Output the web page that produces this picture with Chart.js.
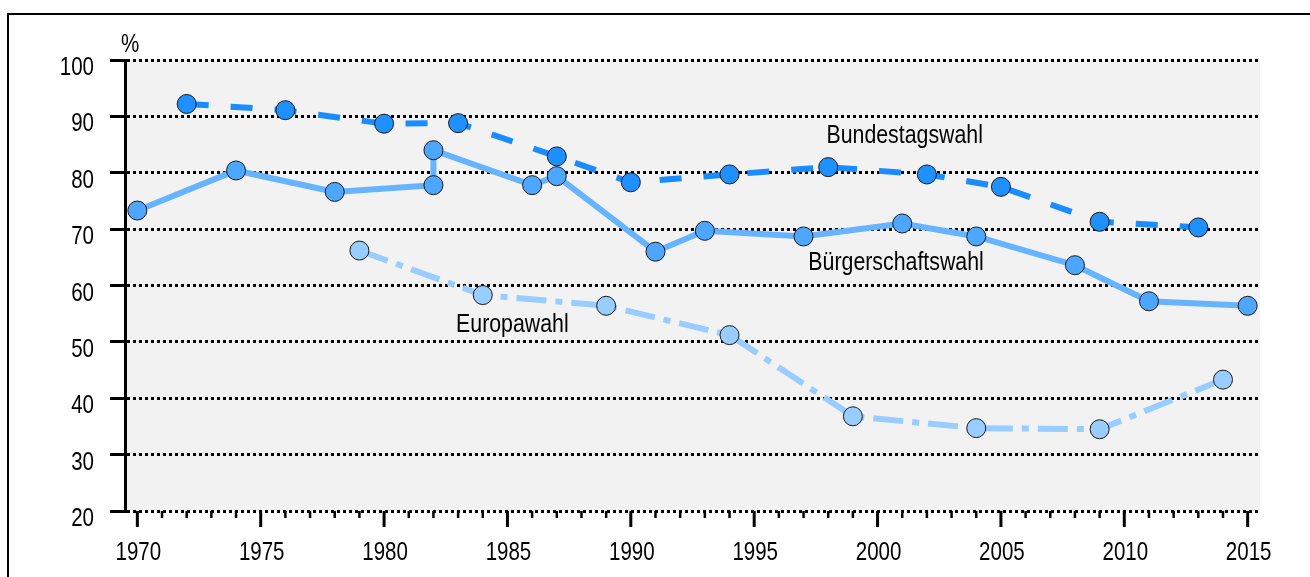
<!DOCTYPE html>
<html>
<head>
<meta charset="utf-8">
<script src="https://cdn.jsdelivr.net/npm/chart.js@4/dist/chart.umd.min.js"></script>
<style>
  html, body { margin: 0; padding: 0; background: #fff; overflow: hidden; }
  #frame { position: absolute; left: 7px; top: 13px; width: 1400px; height: 700px; border: 2px solid #000; }
  #chart { position: absolute; left: 0; top: 0; }
</style>
</head>
<body>
<div id="frame"></div>
<canvas id="chart" width="1310" height="577"></canvas>
<script>
var FONT = '"Liberation Sans", Arial, sans-serif';
var NARROW = 0.82; // squeeze factor for the narrow lettering

// Wahlbeteiligung in %
var bundestagYears = [1972, 1976, 1980, 1983, 1987, 1990, 1994, 1998, 2002, 2005, 2009, 2013];
var bundestagValues = [92.2, 91.1, 88.7, 88.8, 82.9, 78.3, 79.7, 81.0, 79.7, 77.5, 71.3, 70.3];

var buergerschaftYears = [1970, 1974, 1978, 1982, 1982, 1986, 1987, 1991, 1993, 1997, 2001, 2004, 2008, 2011, 2015];
var buergerschaftValues = [73.3, 80.4, 76.6, 77.8, 84.0, 77.8, 79.4, 66.0, 69.7, 68.7, 71.0, 68.7, 63.6, 57.2, 56.4];

var europaYears = [1979, 1984, 1989, 1994, 1999, 2004, 2009, 2014];
var europaValues = [66.2, 58.3, 56.4, 51.2, 36.8, 34.7, 34.5, 43.3];

var seriesNames = ['Bürgerschaftswahl', 'Bundestagswahl', 'Europawahl'];

var xLabelYears = [1970, 1975, 1980, 1985, 1990, 1995, 2000, 2005, 2010, 2015];
var yTickValues = [20, 30, 40, 50, 60, 70, 80, 90, 100];

function toPoints(xs, ys) {
  return xs.map(function (x, i) { return { x: x, y: ys[i] }; });
}

function narrowText(ctx, text, x, y, size, align) {
  ctx.save();
  ctx.font = size + 'px ' + FONT;
  ctx.textAlign = align;
  ctx.textBaseline = 'alphabetic';
  ctx.translate(x, y);
  ctx.scale(NARROW, 1);
  ctx.fillText(text, 0, 0);
  ctx.restore();
}

// grey plot background
var plotBackground = {
  id: 'plotBackground',
  beforeDraw: function (chart) {
    var a = chart.chartArea, ctx = chart.ctx;
    ctx.save();
    ctx.fillStyle = '#f2f2f2';
    ctx.fillRect(a.left, a.top, a.right - a.left, a.bottom - a.top);
    ctx.restore();
  }
};

// axis lettering and the year ticks (long every 5 years)
var axisLettering = {
  id: 'axisLettering',
  afterDraw: function (chart) {
    var sx = chart.scales.x, sy = chart.scales.y, ctx = chart.ctx;
    var a = chart.chartArea;
    ctx.save();
    ctx.strokeStyle = '#000';
    ctx.fillStyle = '#000';
    sx.ticks.forEach(function (t) {
      var px = sx.getPixelForValue(t.value);
      var major = xLabelYears.indexOf(t.value) >= 0;
      ctx.lineWidth = major ? 3 : 2.5;
      ctx.beginPath();
      ctx.moveTo(px, a.bottom);
      ctx.lineTo(px, a.bottom + (major ? 16 : 7));
      ctx.stroke();
      if (major) narrowText(ctx, String(t.value), px + 1, a.bottom + 49, 25, 'center');
    });
    yTickValues.forEach(function (v) {
      narrowText(ctx, String(v), a.left - 31, sy.getPixelForValue(v) + 15, 25, 'right');
    });
    narrowText(ctx, '%', a.left + 5, a.top - 8, 25, 'center');
    ctx.restore();
  }
};

// series names written next to the lines
var seriesLabels = {
  id: 'seriesLabels',
  afterDatasetsDraw: function (chart, args, opts) {
    var ctx = chart.ctx;
    ctx.fillStyle = '#000';
    opts.items.forEach(function (it) {
      narrowText(ctx, it.text, chart.scales.x.getPixelForValue(it.x), chart.scales.y.getPixelForValue(it.y), 26, 'center');
    });
  }
};

new Chart(document.getElementById('chart'), {
  type: 'line',
  data: {
    datasets: [{
      label: seriesNames[0],
      data: toPoints(buergerschaftYears, buergerschaftValues),
      borderColor: '#66b3ff',
      borderWidth: 6,
      pointBackgroundColor: '#4da6ff',
      pointBorderColor: '#1a1a1a',
      pointBorderWidth: 1,
      pointRadius: 9.5
    }, {
      label: seriesNames[1],
      data: toPoints(bundestagYears, bundestagValues),
      borderColor: '#1a8cff',
      borderWidth: 6,
      borderDash: [22, 22],
      pointBackgroundColor: '#1e90ff',
      pointBorderColor: '#1a1a1a',
      pointBorderWidth: 1,
      pointRadius: 9.5
    }, {
      label: seriesNames[2],
      data: toPoints(europaYears, europaValues),
      borderColor: '#99ccff',
      borderWidth: 6,
      borderDash: [30, 9, 7, 9],
      pointBackgroundColor: '#99ccff',
      pointBorderColor: '#1a1a1a',
      pointBorderWidth: 1,
      pointRadius: 9.5
    }]
  },
  options: {
    responsive: false,
    animation: false,
    layout: { padding: { left: 0, top: 60, right: 50, bottom: 0 } },
    plugins: {
      legend: { display: false },
      tooltip: { enabled: false },
      seriesLabels: {
        items: [
          { text: 'Bundestagswahl', x: 2001.1, y: 85.3 },
          { text: 'Bürgerschaftswahl', x: 2000.75, y: 62.8 },
          { text: 'Europawahl', x: 1985.2, y: 51.8 }
        ]
      }
    },
    scales: {
      x: {
        type: 'linear',
        min: 1969.5,
        max: 2015.5,
        afterFit: function (s) { s.height = 66; },
        afterBuildTicks: function (s) {
          var ticks = [];
          for (var yr = xLabelYears[0]; yr <= xLabelYears[xLabelYears.length - 1]; yr++) ticks.push({ value: yr });
          s.ticks = ticks;
        },
        ticks: { display: false },
        grid: { display: false, drawTicks: false },
        border: { display: false }
      },
      y: {
        min: 20,
        max: 100,
        afterFit: function (s) { s.width = 125; },
        afterBuildTicks: function (s) {
          s.ticks = yTickValues.map(function (v) { return { value: v }; });
        },
        ticks: { display: false },
        grid: {
          color: '#000',
          lineWidth: 3,
          tickLength: 15,
          tickWidth: 3,
          tickColor: '#000',
          tickBorderDash: [1, 0]
        },
        border: { display: true, color: '#000', width: 3, dash: [3, 3] }
      }
    }
  },
  plugins: [plotBackground, axisLettering, seriesLabels]
});
</script>
</body>
</html>
